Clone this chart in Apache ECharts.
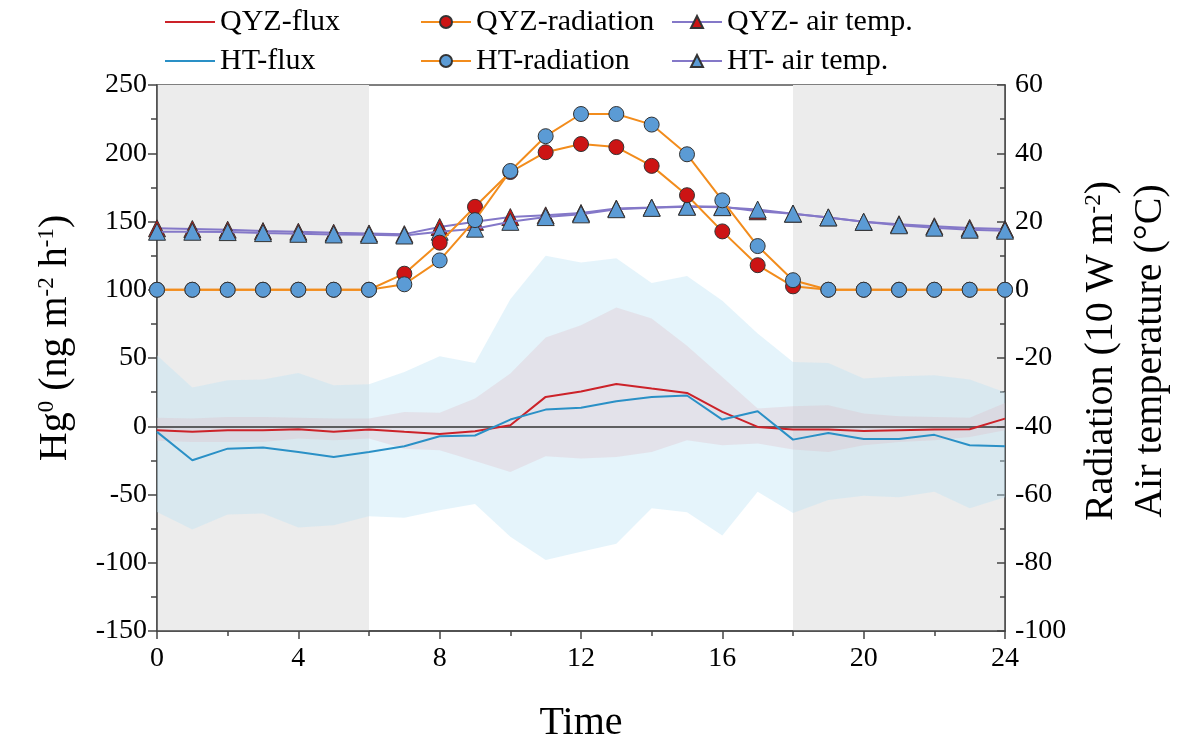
<!DOCTYPE html>
<html>
<head>
<meta charset="utf-8">
<script src="https://cdn.jsdelivr.net/npm/echarts@6/dist/echarts.min.js"></script>
<style>html,body{margin:0;padding:0;background:#fff;}#c{width:1196px;height:743px;}</style>
</head>
<body>
<div id="c"></div>
<script>
var hours = [0,1,2,3,4,5,6,7,8,9,10,11,12,13,14,15,16,17,18,19,20,21,22,23,24];
var qyzFlux = [-2.9,-4.1,-2.9,-3,-2.2,-4.1,-2.4,-4.1,-5.6,-3.7,0.7,21.5,25.5,31,27.6,24.4,10.5,-0.5,-2.4,-2.4,-3.4,-2.9,-2.4,-2.2,5.6];
var htFlux = [-4.1,-24.9,-16.4,-15.6,-18.8,-22.5,-18.8,-14.7,-7.3,-6.8,4.9,12.2,13.5,18.3,21.5,22.5,4.9,11,-9.8,-4.9,-9.3,-9.3,-6.3,-13.9,-14.7];
var qyzUpper = [6.3,5.6,6.8,6.8,6.3,5.6,5.6,10.5,9.8,20.3,38.6,65,74,87,79,59,36,13,14.6,15.4,9.3,7.3,6.8,6.3,17];
var qyzLower = [-10.7,-11.5,-11.5,-11.5,-9,-10.3,-9,-16.4,-17.6,-25.4,-33.5,-22,-23.7,-22.5,-18.8,-10.3,-13.9,-12.7,-17.1,-18.8,-13.9,-11.5,-10.3,-7.8,-2.9];
var htUpper = [52,28.3,33.7,34.2,39,30,30.8,39.8,51.3,46.4,93,125,120,123,105,110,92,68,47,46.4,35,36.6,37.4,34.2,25];
var htLower = [-62.8,-75.7,-64.7,-64,-74.2,-72.5,-66,-67,-61.5,-57,-81,-98,-92,-86,-60,-63,-80,-48,-63.5,-54,-51,-52,-48,-60,-52];
var qyzRad = [0,0,0,0,0,0,0,4.7,13.8,24.3,34.5,40.3,42.7,41.8,36.3,27.7,17.1,7.2,1,0,0,0,0,0,0];
var htRad = [0,0,0,0,0,0,0,1.6,8.6,20.4,34.8,45,51.5,51.5,48.4,39.7,26.2,12.8,2.8,0,0,0,0,0,0];
var qyzTemp = [18,17.8,17.6,17.2,17,16.7,16.5,16.3,18.4,19.9,21.3,21.8,22.5,23.8,24.1,24.5,24.3,23,22.3,21.2,19.9,19.2,18.6,18.1,17.8];
var htTemp = [17,17,16.9,16.6,16.4,16.2,16.1,15.9,17,17.9,19.9,21.3,22.1,23.6,24,24.3,24.2,23.5,22.3,21.2,19.9,18.9,18.2,17.6,17.3];
var nightRanges = [[0,6],[18,24]];

var FONT = 'Liberation Serif';
function pairs(ys){ return hours.map(function(h,i){ return [h, ys[i]]; }); }

function bandSeries(upper, lower, fill, z){
  return {
    type: 'custom', xAxisIndex: 0, yAxisIndex: 0, z: z, silent: true,
    data: [[0, 0]],
    renderItem: function(params, api){
      var pts = [];
      for (var i = 0; i < hours.length; i++) pts.push(api.coord([hours[i], upper[i]]));
      for (var j = hours.length - 1; j >= 0; j--) pts.push(api.coord([hours[j], lower[j]]));
      return { type: 'polygon', shape: { points: pts }, style: { fill: fill } };
    }
  };
}

var nightSeries = {
  type: 'custom', xAxisIndex: 0, yAxisIndex: 0, z: 0, silent: true,
  data: nightRanges.map(function(r, i){ return [i]; }),
  renderItem: function(params, api){
    var r = nightRanges[params.dataIndex];
    var p1 = api.coord([r[0], 250]);
    var p2 = api.coord([r[1], -150]);
    return { type: 'rect', shape: { x: p1[0], y: p1[1], width: p2[0]-p1[0], height: p2[1]-p1[1] }, style: { fill: '#ececec' } };
  }
};

var LINE_ICON = 'path://M0,0L50,0L50,2L0,2Z';
var chart = echarts.init(document.getElementById('c'));
var legendCommon = {
  orient: 'vertical', top: 2, itemWidth: 50, itemHeight: 15, itemGap: 9,
  textStyle: { fontFamily: FONT, fontSize: 30, color: '#000' }
};
chart.setOption({
  animation: false,
  backgroundColor: '#fff',
  legend: [
    Object.assign({ left: 160, data: [{ name: 'QYZ-flux', icon: LINE_ICON }, { name: 'HT-flux', icon: LINE_ICON }] }, legendCommon),
    Object.assign({ left: 415, data: ['QYZ-radiation', 'HT-radiation'] }, legendCommon),
    Object.assign({ left: 666, data: ['QYZ- air temp.', 'HT- air temp.'] }, legendCommon)
  ],
  grid: { left: 157, right: 191, top: 85, bottom: 112, outerBoundsMode: 'none', containLabel: false, show: true, borderColor: '#555', borderWidth: 1.5, backgroundColor: 'transparent' },
  xAxis: {
    type: 'value', min: 0, max: 24, interval: 4,
    name: 'Time', nameLocation: 'middle', nameGap: 72,
    nameTextStyle: { fontFamily: FONT, fontSize: 40, color: '#000' },
    axisLine: { onZero: false, lineStyle: { color: '#444', width: 1.5 } },
    axisTick: { show: true, inside: false, length: 8, lineStyle: { color: '#444', width: 1.5 } },
    minorTick: { show: true, splitNumber: 2, length: 5, lineStyle: { color: '#444', width: 1.5 } },
    splitLine: { show: false },
    axisLabel: { fontFamily: FONT, fontSize: 28, color: '#000', margin: 14 }
  },
  yAxis: [
    {
      type: 'value', min: -150, max: 250, interval: 50, position: 'left',
      name: '{a|Hg}{s|0}{a| (ng m}{s|-2}{a| h}{s|-1}{a|)}', nameLocation: 'middle', nameGap: 80, nameRotate: 90,
      nameTextStyle: { padding: [0, 0, 0, 40], rich: {
        a: { fontFamily: FONT, fontSize: 40, color: '#000', lineHeight: 44, verticalAlign: 'middle' },
        s: { fontFamily: FONT, fontSize: 23, color: '#000', lineHeight: 22, verticalAlign: 'top', padding: [2,0,0,0] }
      } },
      axisLine: { show: true, lineStyle: { color: '#444', width: 1.5 } },
      axisTick: { show: true, inside: false, length: 9, lineStyle: { color: '#444', width: 1.5 } },
      minorTick: { show: true, splitNumber: 2, length: 6, lineStyle: { color: '#444', width: 1.5 } },
      splitLine: { show: false },
      axisLabel: { fontFamily: FONT, fontSize: 28, color: '#000', margin: 10 }
    },
    {
      type: 'value', min: -100, max: 60, interval: 20, position: 'right',
      name: '{a|Radiation (10 W m}{s|-2}{a|)}\n{a|Air temperature (°C)}', nameLocation: 'middle', nameGap: 69, nameRotate: 90,
      nameTextStyle: { padding: [0, 0, 0, 14], rich: {
        a: { fontFamily: FONT, fontSize: 40, color: '#000', lineHeight: 49, verticalAlign: 'middle' },
        s: { fontFamily: FONT, fontSize: 23, color: '#000', lineHeight: 22, verticalAlign: 'top', padding: [5,0,0,0] }
      } },
      axisLine: { show: true, lineStyle: { color: '#444', width: 1.5 } },
      axisTick: { show: true, inside: true, length: 8, lineStyle: { color: '#444', width: 1.5 } },
      minorTick: { show: true, splitNumber: 2, length: 5, lineStyle: { color: '#444', width: 1.5 } },
      splitLine: { show: false },
      axisLabel: { fontFamily: FONT, fontSize: 28, color: '#000', margin: 10 }
    }
  ],
  series: [
    nightSeries,
    bandSeries(htUpper, htLower, 'rgba(190,228,246,0.4)', 1),
    bandSeries(qyzUpper, qyzLower, 'rgba(222,184,194,0.3)', 1),
    {
      name: 'QYZ-flux', type: 'line', yAxisIndex: 0, data: pairs(qyzFlux), symbol: 'none', z: 4,
      lineStyle: { color: '#cc2229', width: 2 }, itemStyle: { color: '#cc2229' },
      markLine: { silent: true, symbol: 'none', label: { show: false }, z: 3,
        lineStyle: { color: '#333', width: 1.5, type: 'solid' }, data: [{ yAxis: 0 }] }
    },
    {
      name: 'HT-flux', type: 'line', yAxisIndex: 0, data: pairs(htFlux), symbol: 'none', z: 4,
      lineStyle: { color: '#2a90c6', width: 2 }, itemStyle: { color: '#2a90c6' }
    },
    {
      name: 'QYZ- air temp.', type: 'line', yAxisIndex: 1, data: pairs(qyzTemp), symbol: 'triangle', symbolSize: 17, z: 5,
      lineStyle: { color: '#8478c8', width: 2 }, itemStyle: { color: '#cc1414', borderColor: '#333', borderWidth: 1 }
    },
    {
      name: 'HT- air temp.', type: 'line', yAxisIndex: 1, data: pairs(htTemp), symbol: 'triangle', symbolSize: 17, z: 6,
      lineStyle: { color: '#8478c8', width: 2 }, itemStyle: { color: '#5b9bd5', borderColor: '#333', borderWidth: 1 }
    },
    {
      name: 'QYZ-radiation', type: 'line', yAxisIndex: 1, data: pairs(qyzRad), symbol: 'circle', symbolSize: 15, z: 7,
      lineStyle: { color: '#f28c1c', width: 2 }, itemStyle: { color: '#cc1414', borderColor: '#333', borderWidth: 1 }
    },
    {
      name: 'HT-radiation', type: 'line', yAxisIndex: 1, data: pairs(htRad), symbol: 'circle', symbolSize: 15, z: 8,
      lineStyle: { color: '#f28c1c', width: 2 }, itemStyle: { color: '#5b9bd5', borderColor: '#333', borderWidth: 1 }
    }
  ]
});
</script>
</body>
</html>
